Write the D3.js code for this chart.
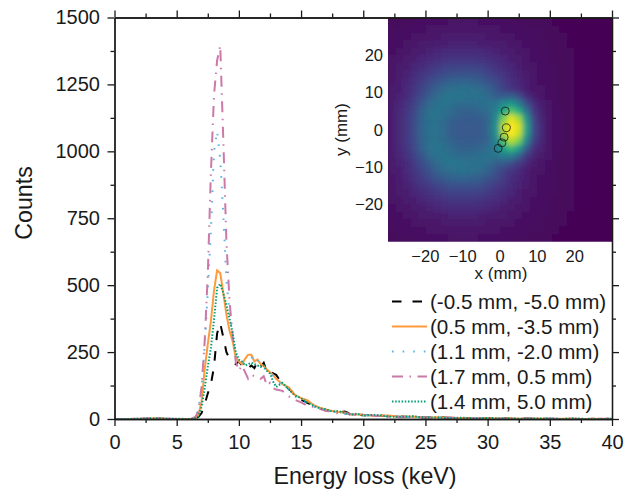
<!DOCTYPE html>
<html>
<head>
<meta charset="utf-8">
<script src="https://cdn.jsdelivr.net/npm/d3@7"></script>
<style>
  html, body { margin: 0; padding: 0; background: #fff; }
  text { font-family: "Liberation Sans", Arial, sans-serif; fill: #1a1a1a; }
  .axis path, .axis line { stroke: #1a1a1a; stroke-width: 1.3; }
</style>
</head>
<body>
<div id="chart"></div>
<script>
var energy = [0,1,2,3,3.5,4,5,6,6.25,6.5,
  6.75,7,7.25,7.5,7.75,8,8.25,8.5,8.75,9,9.25,9.5,9.75,10,10.25,10.5,10.75,11,11.25,11.5,11.75,12,12.25,12.5,12.75,13,
  13.5,14,14.5,15,15.5,16,16.5,17,17.5,18,18.5,19,19.5,20,
  21,22,23,24,25,26,27,28,29,30,31,32,33,34,35,36,37,38,39,40];

var counts_a = [0,0,0,1,2,1,0,0,1,3,
  8,22,55,95,130,195,320,358,305,250,225,215,205,215,200,205,190,200,190,215,195,210,175,180,170,165,
  130,115,90,72,60,50,38,35,28,24,28,20,18,14,
  15,10,9,7,6,8,4,3,4,2,3,1,2,1,1,0,1,0,1,0];
var counts_b = [0,0,1,2,3,1,0,0,1,5,
  15,65,185,280,365,480,555,545,470,390,330,290,230,215,205,225,240,240,215,222,205,198,185,175,165,150,
  130,118,90,78,70,52,42,35,30,26,24,17,18,15,
  12,13,8,9,5,7,5,4,2,3,2,2,1,2,0,1,1,0,1,0];
var counts_c = [0,0,1,2,3,1,0,0,2,8,
  35,120,270,480,700,1000,1075,970,760,520,395,310,235,215,210,210,215,225,240,220,205,190,185,170,160,145,
  128,110,85,70,58,48,36,32,26,28,20,19,14,16,
  13,9,10,6,7,5,6,3,4,2,1,3,1,1,2,0,0,1,0,0];
var counts_d = [0,0,1,3,4,2,0,0,2,8,
  30,120,290,540,920,1210,1340,1395,1040,660,440,310,215,180,200,175,150,165,160,155,150,160,125,135,115,110,
  105,85,72,62,50,45,38,30,28,20,22,18,15,18,
  11,12,7,8,6,4,6,2,3,3,2,1,2,0,1,1,0,0,1,0];
var counts_e = [0,0,1,3,2,1,1,0,1,3,
  10,45,115,195,265,370,490,505,470,425,375,320,250,222,215,200,205,210,205,200,195,200,180,170,140,120,
  135,112,88,78,62,50,40,36,28,30,22,16,20,12,
  16,9,8,10,5,6,3,5,2,4,2,1,1,2,1,0,2,0,0,1];

var legend_labels = ["(-0.5 mm, -5.0 mm)", "(0.5 mm, -3.5 mm)", "(1.1 mm, -2.0 mm)", "(1.7 mm, 0.5 mm)", "(1.4 mm, 5.0 mm)"];
var line_colors = ["#000000", "#ff9a3d", "#56b4e9", "#cc79a7", "#009e73"];
var line_dashes = ["9.5,11", null, "1.6,9", "11,6.5,1.5,6.5", "1.5,1.7"];

var x_major = [0,5,10,15,20,25,30,35,40];
var x_minor = [2.5,7.5,12.5,17.5,22.5,27.5,32.5,37.5];
var y_major = [0,250,500,750,1000,1250,1500];
var y_minor = [125,375,625,875,1125,1375];

var inset_ticks = [-20,-10,0,10,20];
var circle_x = [-0.5,0.5,1.1,1.7,1.4];
var circle_y = [-5,-3.5,-2,0.5,5];

// beam image, 2 mm cells, top row is y = 29, value in % of colour range
var heat_xs = [-29,-27,-25,-23,-21,-19,-17,-15,-13,-11,-9,-7,-5,-3,-1,1,3,5,7,9,11,13,15,17,19,21,23,25,27,29];
var heat_ys = [29,27,25,23,21,19,17,15,13,11,9,7,5,3,1,-1,-3,-5,-7,-9,-11,-13,-15,-17,-19,-21,-23,-25,-27,-29];
var heat_rows = [
  [5,6,6,6,7,7,7,7,8,8,8,8,7,7,7,7,6,6,6,5,5,5,4,4,4,4,4,3,3,3],
  [6,6,7,7,7,8,8,8,9,9,9,9,8,8,8,7,7,7,6,6,6,5,5,4,4,4,4,3,3,3],
  [6,7,7,8,8,9,9,10,10,10,10,10,10,9,9,8,8,7,7,6,6,5,5,5,4,4,4,3,3,3],
  [7,7,8,9,10,10,11,11,12,12,12,12,11,11,10,10,9,8,7,7,6,6,5,5,4,4,4,4,3,3],
  [7,8,9,10,11,12,13,14,15,15,15,15,14,13,12,11,10,9,8,7,6,6,5,5,5,4,4,4,3,3],
  [8,9,10,11,13,14,16,17,18,18,18,18,17,16,14,13,11,10,8,7,7,6,5,5,5,4,4,4,3,3],
  [8,10,11,13,15,17,19,21,22,22,22,22,21,19,17,15,13,11,9,8,7,6,6,5,5,4,4,4,3,3],
  [9,10,12,15,18,20,23,25,27,27,27,27,26,23,20,18,15,12,10,8,7,6,6,5,5,4,4,4,3,3],
  [9,11,13,17,20,24,28,31,33,34,34,33,31,28,24,20,16,13,11,9,7,6,6,5,5,4,4,4,3,3],
  [10,11,14,18,23,28,33,36,38,39,39,38,36,33,27,22,18,14,11,9,8,7,6,5,5,4,4,4,3,3],
  [10,12,15,20,25,31,36,40,41,41,40,40,39,36,32,31,32,26,16,11,8,7,6,5,5,4,4,4,3,3],
  [11,13,17,22,29,36,39,41,39,37,37,37,39,40,41,50,54,44,28,16,11,8,6,5,5,4,4,4,3,3],
  [11,14,18,24,33,38,41,39,36,34,33,34,35,38,46,62,74,64,40,20,12,8,7,5,5,4,4,4,3,3],
  [11,14,19,25,33,39,40,37,34,32,31,31,32,36,50,80,96,86,54,24,13,9,7,6,5,4,4,4,3,3],
  [11,14,19,26,34,39,40,36,32,30,30,30,31,36,54,90,100,94,60,26,14,9,7,6,5,4,4,4,3,3],
  [11,14,19,26,34,39,40,36,32,30,30,30,31,36,53,88,100,92,58,26,14,9,7,6,5,4,4,4,3,3],
  [11,14,19,25,33,39,40,37,34,32,31,31,32,36,48,74,90,80,48,22,13,9,7,6,5,4,4,4,3,3],
  [11,14,18,24,33,38,41,39,36,34,33,34,35,38,44,58,68,56,32,17,12,8,7,5,5,4,4,4,3,3],
  [11,13,17,22,29,36,39,41,39,37,37,37,39,40,41,44,44,34,20,13,10,8,6,5,5,4,4,4,3,3],
  [10,12,15,20,25,31,36,40,41,41,40,40,39,36,32,30,26,20,14,10,8,7,6,5,5,4,4,4,3,3],
  [10,11,14,18,23,28,33,36,38,39,39,38,36,33,27,22,18,14,11,9,8,7,6,5,5,4,4,4,3,3],
  [9,11,13,17,20,24,28,31,33,34,34,33,31,28,24,20,16,13,11,9,7,6,6,5,5,4,4,4,3,3],
  [9,10,12,15,18,20,23,25,27,27,27,27,26,23,20,18,15,12,10,8,7,6,6,5,5,4,4,4,3,3],
  [8,10,11,13,15,17,19,21,22,22,22,22,21,19,17,15,13,11,9,8,7,6,6,5,5,4,4,4,3,3],
  [8,9,10,11,13,14,16,17,18,18,18,18,17,16,14,13,11,10,8,7,7,6,5,5,5,4,4,4,3,3],
  [7,8,9,10,11,12,13,14,15,15,15,15,14,13,12,11,10,9,8,7,6,6,5,5,5,4,4,4,3,3],
  [7,7,8,9,10,10,11,11,12,12,12,12,11,11,10,10,9,8,7,7,6,6,5,5,4,4,4,4,3,3],
  [6,7,7,8,8,9,9,10,10,10,10,10,10,9,9,8,8,7,7,6,6,5,5,5,4,4,4,3,3,3],
  [6,6,7,7,7,8,8,8,9,9,9,9,8,8,8,7,7,7,6,6,6,5,5,4,4,4,4,3,3,3],
  [5,6,6,6,7,7,7,7,8,8,8,8,7,7,7,7,6,6,6,5,5,5,4,4,4,4,4,3,3,3]
];

var width = 637, height = 491;
var series = [counts_a, counts_b, counts_c, counts_d, counts_e];

var svg = d3.select("#chart").append("svg")
    .attr("width", width)
    .attr("height", height)
    .style("display", "block");

var x = d3.scaleLinear().domain([0, 40]).range([114.5, 612]);
var y = d3.scaleLinear().domain([0, 1500]).range([419, 17.5]);

var line = d3.line()
    .x(function(d, i) { return x(energy[i]); })
    .y(function(d) { return y(d); });

var minus = function(d) { return String(d).replace("-", "\u2212"); };

// curves
svg.selectAll(".curve")
    .data(series)
  .enter().append("path")
    .attr("class", "curve")
    .attr("d", line)
    .attr("fill", "none")
    .attr("stroke-width", 2)
    .attr("stroke", function(d, i) { return line_colors[i]; })
    .attr("stroke-dasharray", function(d, i) { return line_dashes[i]; });

// inset image
var hx = d3.scaleLinear().domain([-30, 30]).range([388, 612]);
var hy = d3.scaleLinear().domain([-30, 30]).range([241.7, 17.7]);
var color = d3.scaleSequential(d3.interpolateViridis).domain([3, 100]);

var defs = svg.append("defs");
defs.append("clipPath").attr("id", "inset-clip")
  .append("rect")
    .attr("x", hx(-30)).attr("y", hy(30))
    .attr("width", hx(30) - hx(-30)).attr("height", hy(-30) - hy(30));
defs.append("filter").attr("id", "soften")
    .attr("filterUnits", "userSpaceOnUse")
    .attr("x", 360).attr("y", 0).attr("width", 277).attr("height", 270)
  .append("feGaussianBlur").attr("stdDeviation", 2.4);

var heat = svg.append("g").attr("clip-path", "url(#inset-clip)")
  .append("g").attr("filter", "url(#soften)");

heat.append("rect")
    .attr("x", hx(-30) - 20).attr("y", hy(30) - 20)
    .attr("width", hx(30) - hx(-30) + 40).attr("height", hy(-30) - hy(30) + 40)
    .attr("fill", color(5));

heat_rows.forEach(function(row, r) {
  heat.selectAll(".cell-" + r)
      .data(row)
    .enter().append("rect")
      .attr("class", "cell-" + r)
      .attr("x", function(d, i) { return hx(heat_xs[i] - 1); })
      .attr("y", hy(heat_ys[r] + 1))
      .attr("width", hx(2) - hx(0) + 0.5)
      .attr("height", hy(0) - hy(2) + 0.5)
      .attr("fill", function(d) { return color(d); });
});

svg.selectAll(".spot")
    .data(circle_x)
  .enter().append("circle")
    .attr("class", "spot")
    .attr("cx", function(d) { return hx(d); })
    .attr("cy", function(d, i) { return hy(circle_y[i]); })
    .attr("r", 4)
    .attr("fill", "none")
    .attr("stroke", "#111")
    .attr("stroke-width", 0.9)
    .attr("stroke-opacity", 0.85);

// main axes, ticks out on bottom/left, in on top/right
function draw_axis(axis_fn, scale, major, minor, translate, size_sign, labels, pad) {
  var g = svg.append("g").attr("class", "axis").attr("transform", translate);
  g.call(axis_fn(scale).tickValues(minor).tickSize(4 * size_sign).tickSizeOuter(0).tickFormat(""));
  var g2 = svg.append("g").attr("class", "axis").attr("transform", translate);
  g2.call(axis_fn(scale).tickValues(major).tickSize(7 * size_sign).tickSizeOuter(0)
      .tickPadding(pad).tickFormat(labels ? d3.format("d") : ""));
  g2.selectAll("text").style("font-size", "20px").attr("fill", "#1a1a1a");
  return g2;
}

draw_axis(d3.axisBottom, x, x_major, x_minor, "translate(0,419)", 1, true, 8.5);
draw_axis(d3.axisLeft, y, y_major, y_minor, "translate(114.5,0)", 1, true, 7.5);
draw_axis(d3.axisBottom, x, x_major, x_minor, "translate(0,17.5)", -1, false, 3);
draw_axis(d3.axisLeft, y, y_major, y_minor, "translate(612,0)", -1, false, 3);

svg.append("text")
    .attr("x", 365)
    .attr("y", 484)
    .attr("text-anchor", "middle")
    .style("font-size", "23.2px")
    .text("Energy loss (keV)");

svg.append("text")
    .attr("transform", "translate(32,203) rotate(-90)")
    .attr("text-anchor", "middle")
    .style("font-size", "23.2px")
    .text("Counts");

// inset labels
svg.selectAll(".inset-x")
    .data(inset_ticks)
  .enter().append("text")
    .attr("class", "inset-x")
    .attr("x", function(d) { return hx(d); })
    .attr("y", 262)
    .attr("text-anchor", "middle")
    .style("font-size", "16.5px")
    .text(minus);

svg.selectAll(".inset-y")
    .data(inset_ticks)
  .enter().append("text")
    .attr("class", "inset-y")
    .attr("x", 383)
    .attr("y", function(d) { return hy(d) + 6; })
    .attr("text-anchor", "end")
    .style("font-size", "16.5px")
    .text(minus);

svg.append("text")
    .attr("x", 501)
    .attr("y", 279)
    .attr("text-anchor", "middle")
    .style("font-size", "17px")
    .text("x (mm)");

svg.append("text")
    .attr("transform", "translate(347,129.5) rotate(-90)")
    .attr("text-anchor", "middle")
    .style("font-size", "17px")
    .text("y (mm)");

// legend
var legend = svg.selectAll(".legend")
    .data(legend_labels)
  .enter().append("g")
    .attr("class", "legend")
    .attr("transform", function(d, i) { return "translate(392," + (301.5 + i * 25) + ")"; });

legend.append("line")
    .attr("x1", 0).attr("x2", 35)
    .attr("stroke-width", 2)
    .attr("stroke", function(d, i) { return line_colors[i]; })
    .attr("stroke-dasharray", function(d, i) { return line_dashes[i]; });

legend.append("text")
    .attr("x", 38)
    .attr("y", 7)
    .style("font-size", "20.6px")
    .text(function(d) { return d; });
</script>
</body>
</html>
